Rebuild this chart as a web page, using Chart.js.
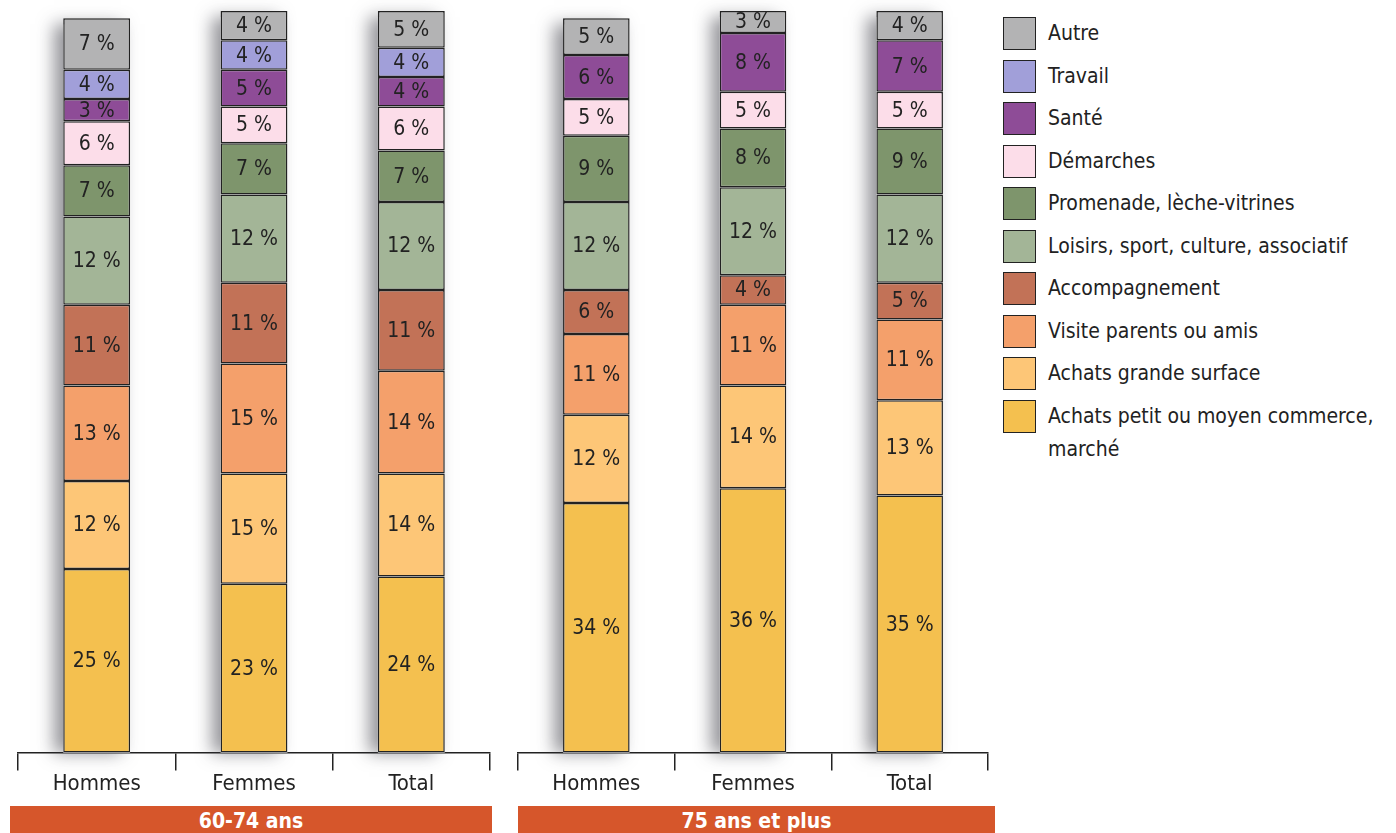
<!DOCTYPE html>
<html lang="fr">
<head>
<meta charset="utf-8">
<script src="https://cdn.jsdelivr.net/npm/chart.js@4/dist/chart.umd.min.js"></script>
<style>
  body { margin: 0; background: #fff; width: 1396px; height: 833px; overflow: hidden; position: relative;
         font-family: "Liberation Sans Narrow", "DejaVu Sans Condensed", "Roboto", sans-serif; color: #222; }
  .plot { position: absolute; top: 0; height: 797px; }
  .band { position: absolute; top: 806px; height: 27px; background: #d6562b; color: #fff;
          font-weight: bold; font-size: 21px; line-height: 30px; text-align: center; }
  #legend { position: absolute; left: 1003px; top: 17px; width: 390px; }
  .leg-row { display: flex; align-items: flex-start; height: 42.5px; }
  .leg-box { width: 31px; height: 31px; border: 1.5px solid #222; flex: none; }
  .leg-text { margin-left: 12px; font-size: 21px; line-height: 33px; }
</style>
</head>
<body>
<div class="plot" style="left:16px;width:476px"><canvas id="chart60"></canvas></div>
<div class="plot" style="left:516px;width:474px"><canvas id="chart75"></canvas></div>
<div class="band" style="left:10px;width:482px">60-74 ans</div>
<div class="band" style="left:518px;width:477px">75 ans et plus</div>
<div id="legend"></div>

<script>
// categories and groups
const categories = ['Hommes', 'Femmes', 'Total'];
const groupLabels = ['60-74 ans', '75 ans et plus'];

// values in %, first 3 = 60-74 ans, last 3 = 75 ans et plus
const achatsPetit   = [25, 23, 24, 34, 36, 35];
const achatsGrande  = [12, 15, 14, 12, 14, 13];
const visite        = [13, 15, 14, 11, 11, 11];
const accompagnement= [11, 11, 11,  6,  4,  5];
const loisirs       = [12, 12, 12, 12, 12, 12];
const promenade     = [ 7,  7,  7,  9,  8,  9];
const demarches     = [ 6,  5,  6,  5,  5,  5];
const sante         = [ 3,  5,  4,  6,  8,  7];
const travail       = [ 4,  4,  4,  0,  0,  0];
const autre         = [ 7,  4,  5,  5,  3,  4];

// stack order, bottom to top
const series = [
    { name: 'Achats petit ou moyen commerce, marché', data: achatsPetit, color: '#f4c04f' },
    { name: 'Achats grande surface', data: achatsGrande, color: '#fdc677' },
    { name: 'Visite parents ou amis', data: visite, color: '#f4a06b' },
    { name: 'Accompagnement', data: accompagnement, color: '#c27257' },
    { name: 'Loisirs, sport, culture, associatif', data: loisirs, color: '#a3b597' },
    { name: 'Promenade, lèche-vitrines', data: promenade, color: '#7e956c' },
    { name: 'Démarches', data: demarches, color: '#fcdde9' },
    { name: 'Santé', data: sante, color: '#8e4c97' },
    { name: 'Travail', data: travail, color: '#a19fd9' },
    { name: 'Autre', data: autre, color: '#b3b3b4' }
];

const FONT = '"Liberation Sans Narrow", "DejaVu Sans Condensed", Roboto, sans-serif';

// soft shadow on the left of every bar, like the printed figure
const shadowPlugin = {
    id: 'barShadow',
    beforeDatasetsDraw(chart) {
        const ctx = chart.ctx;
        const first = chart.getDatasetMeta(0).data;
        const metas = chart.data.datasets.map((d, i) => chart.getDatasetMeta(i));
        ctx.save();
        ctx.shadowColor = 'rgba(60,60,70,0.55)';
        ctx.shadowBlur = 16;
        ctx.shadowOffsetX = -9;
        ctx.fillStyle = '#fff';
        first.forEach((bar, i) => {
            let top = bar.y;
            metas.forEach(m => { if (m.data[i].y < top) top = m.data[i].y; });
            ctx.fillRect(bar.x - bar.width / 2, top + 6, bar.width, bar.base - top - 6);
        });
        ctx.restore();
    }
};

// percentage inside each segment
const segmentLabels = {
    id: 'segmentLabels',
    afterDatasetsDraw(chart) {
        const ctx = chart.ctx;
        ctx.save();
        ctx.font = '21px ' + FONT;
        ctx.fillStyle = '#222';
        ctx.textAlign = 'center';
        ctx.textBaseline = 'middle';
        chart.data.datasets.forEach((ds, di) => {
            chart.getDatasetMeta(di).data.forEach((bar, i) => {
                const v = ds.data[i];
                if (!v) return;
                ctx.fillText(v + ' %', bar.x, (bar.y + bar.base) / 2 + 1);
            });
        });
        ctx.restore();
    }
};

function makeChart(canvasId, from) {
    const datasets = series.map(s => ({
        label: s.name,
        data: s.data.slice(from, from + 3),
        backgroundColor: s.color,
        borderColor: '#222',
        borderWidth: 1.5,
        borderSkipped: false,
        categoryPercentage: 1,
        barPercentage: 0.425
    }));
    return new Chart(document.getElementById(canvasId), {
        type: 'bar',
        data: { labels: categories, datasets: datasets },
        options: {
            responsive: true,
            maintainAspectRatio: false,
            animation: false,
            layout: { padding: { top: 11, left: 2, right: 2, bottom: 0 } },
            plugins: { legend: { display: false }, tooltip: { enabled: false } },
            scales: {
                x: {
                    stacked: true,
                    grid: { offset: true, drawOnChartArea: false, drawTicks: true, tickLength: 18, color: '#222', lineWidth: 1.5 },
                    border: { display: true, color: '#222', width: 1.5 },
                    ticks: { color: '#222', padding: 0, font: { family: FONT, size: 22 } }
                },
                y: { stacked: true, display: false, min: 0, max: 101 }
            }
        },
        plugins: [shadowPlugin, segmentLabels]
    });
}

makeChart('chart60', 0);
makeChart('chart75', 3);

// legend, top to bottom
const legend = document.getElementById('legend');
series.slice().reverse().forEach(s => {
    const row = document.createElement('div');
    row.className = 'leg-row';
    row.innerHTML = '<div class="leg-box" style="background:' + s.color + '"></div><div class="leg-text">' + s.name + '</div>';
    legend.appendChild(row);
});
</script>
</body>
</html>
